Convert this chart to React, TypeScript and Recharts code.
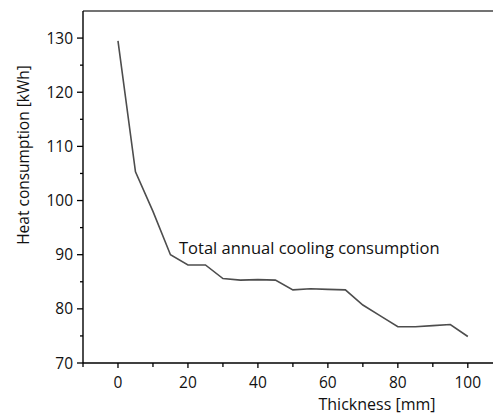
import React from 'react';
import { LineChart, Line, XAxis, YAxis, ReferenceLine, ReferenceDot } from 'recharts';

const thickness = [0, 5, 10, 15, 20, 25, 30, 35, 40, 45, 50, 55, 60, 65, 70, 75, 80, 85, 90, 95, 100];
const consumption = [129.5, 105.3, 98.0, 90.0, 88.1, 88.1, 85.6, 85.3, 85.4, 85.3, 83.5, 83.7, 83.6, 83.5, 80.7, 78.7, 76.7, 76.7, 76.9, 77.1, 74.9];
const xTicks = [-10, 0, 10, 20, 30, 40, 50, 60, 70, 80, 90, 100];
const xLabels = [0, 20, 40, 60, 80, 100];
const yTicks = [70, 75, 80, 85, 90, 95, 100, 105, 110, 115, 120, 125, 130];
const yLabels = [70, 80, 90, 100, 110, 120, 130];

const data = thickness.map((t, i) => ({ t, v: consumption[i] }));

const FONT = "'Open Sans', sans-serif";
const TXT = '#111';

const XTick = (props: any) => {
  const { x, y, payload } = props;
  const major = xLabels.includes(payload.value);
  return (
    <g>
      <line x1={x} x2={x} y1={y} y2={y + (major ? 5 : 4)} stroke="#000" strokeWidth={1.3} />
      {major && (
        <text x={x} y={y + 25} textAnchor="middle" fontSize={15.5} fontFamily={FONT} fill={TXT} stroke="none">
          {payload.value}
        </text>
      )}
    </g>
  );
};

const YTick = (props: any) => {
  const { x, y, payload } = props;
  const major = yLabels.includes(payload.value);
  return (
    <g>
      <line x1={x - (major ? 6 : 3)} x2={x} y1={y} y2={y} stroke="#000" strokeWidth={1.3} />
      {major && (
        <text x={x - 10} y={y + 5.5} textAnchor="end" fontSize={15.5} fontFamily={FONT} fill={TXT} stroke="none">
          {payload.value}
        </text>
      )}
    </g>
  );
};

const YTitle = (props: any) => {
  const vb = props.viewBox || { x: 0, y: 11 };
  const cx = vb.x + 29;
  const cy = 155;
  return (
    <text x={cx} y={cy} transform={`rotate(-90, ${cx}, ${cy})`} textAnchor="middle" fontSize={15.5} fontFamily={FONT} fill={TXT} stroke="none">
      Heat consumption [kWh]
    </text>
  );
};

const XTitle = () => (
  <text x={377} y={410} textAnchor="middle" fontSize={16} fontFamily={FONT} fill={TXT} stroke="none">
    Thickness [mm]
  </text>
);

export default function App() {
  return (
    <div style={{ position: 'absolute', left: 0, top: 0, width: 493, height: 415, background: '#fff' }}>
      <LineChart width={493} height={415} data={data} margin={{ top: 11, right: 0, bottom: 0, left: 0 }}>
        <XAxis
          dataKey="t"
          type="number"
          domain={[-10, 107.2]}
          allowDataOverflow
          ticks={xTicks}
          interval={0}
          tickSize={0}
          tickMargin={0}
          tickLine={false}
          tick={<XTick />}
          height={52}
          axisLine={{ stroke: '#000', strokeWidth: 1.4 }}
          label={<XTitle />}
        />
        <YAxis
          type="number"
          domain={[70, 135]}
          allowDataOverflow
          ticks={yTicks}
          interval={0}
          tickSize={0}
          tickMargin={0}
          tickLine={false}
          tick={<YTick />}
          width={83}
          axisLine={{ stroke: '#000', strokeWidth: 1.4 }}
          label={<YTitle />}
        />
        <ReferenceLine y={135} stroke="#444" strokeWidth={1.6} ifOverflow="extendDomain" />
        <Line
          dataKey="v"
          type="linear"
          stroke="#4d4d4d"
          strokeWidth={1.6}
          dot={false}
          isAnimationActive={false}
        />
        <ReferenceDot
          x={17.45}
          y={91.3}
          r={0}
          fill="none"
          stroke="none"
          label={{ value: 'Total annual cooling consumption', position: 'right', offset: 0, fontSize: 16.5, fontFamily: FONT, fill: TXT }}
        />
      </LineChart>
    </div>
  );
}
